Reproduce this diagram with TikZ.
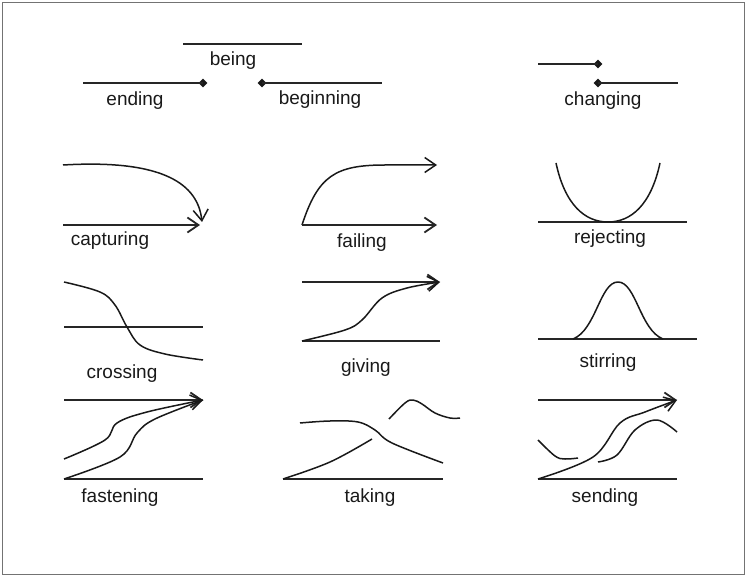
\documentclass[tikz,border=0pt]{standalone}
\usepackage{fontspec}
\setmainfont{Liberation Sans}
\usetikzlibrary{arrows.meta,shapes.geometric}

\begin{document}
\begin{tikzpicture}[x=1pt, y=-1pt,
    >={Straight Barb[length=11pt,width=15pt]},
    every node/.style={font=\fontsize{19}{21}\selectfont, text=black!90},
    stroke/.style={line width=1.8pt, draw=black!85},
    sketch/.style={line width=1.5pt, draw=black!90, line join=round},
    dot/.style={diamond, fill=black!90, inner sep=0pt, minimum size=9pt}]
  \useasboundingbox (0,0) rectangle (747,577);
  \draw[black!55, line width=1pt] (2.5,2.5) rectangle (744.5,574.5);

  % top row: being, ending, beginning, changing
  \draw[stroke] (183,44) -- (302,44);
  \node (being) at (233,61) {being};
  \node[dot] (endd) at (203,83) {};
  \coordinate (endl) at (83,83);
  \draw[stroke] (endl) -- (endd.center);
  \node (ending) at (135,101) {ending};
  \node[dot] (begd) at (262,83) {};
  \coordinate (begr) at (382,83);
  \draw[stroke] (begd.center) -- (begr);
  \node (beginning) at (320,100) {beginning};
  \node[dot] (chga) at (598,64) {};
  \node[dot] (chgb) at (598,83) {};
  \coordinate (chgl) at (538,64);
  \coordinate (chgr) at (678,83);
  \draw[stroke] (chgl) -- (chga.center);
  \draw[stroke] (chgb.center) -- (chgr);
  \node (changing) at (603,101) {changing};

  % capturing
  \draw[sketch, ->] (63,165) .. controls (165,159) and (198,185) .. (202,222);
  \draw[stroke, ->] (63,225) -- (200,225);
  \node (capturing) at (110,241) {capturing};

  % failing
  \draw[sketch, ->] (302,225) .. controls (318,176) and (335,165) .. (385,165) -- (437,165);
  \draw[stroke, ->] (302,225) -- (437,225);
  \node (failing) at (362,243) {failing};

  % rejecting
  \draw[stroke] (538,222) -- (687,222);
  \draw[sketch] (556,163) .. controls (565,205) and (585,222) .. (608,222)
    .. controls (631,222) and (651,205) .. (660,163);
  \node (rejecting) at (610,239) {rejecting};

  % crossing
  \draw[stroke] (64,327) -- (203,327);
  \draw[sketch] plot[smooth, tension=0.6] coordinates
    {(64,282) (100,292) (115,305) (127,327) (140,345) (165,354) (203,360)};
  \node (crossing) at (122,374) {crossing};

  % giving
  \draw[stroke, ->] (302,282) -- (440,282);
  \draw[stroke] (302,341) -- (440,341);
  \draw[sketch, ->] plot[smooth, tension=0.6] coordinates
    {(302,341) (345,330) (362,320) (382,298) (407,288) (440,282)};
  \node (giving) at (366,368) {giving};

  % stirring
  \draw[stroke] (538,339) -- (697,339);
  \draw[sketch] (573,339) .. controls (596,330) and (600,282) .. (618,282)
    .. controls (636,282) and (640,330) .. (663,339);
  \node (stirring) at (608,363) {stirring};

  % fastening
  \draw[stroke, ->] (64,400) -- (203,400);
  \draw[stroke] (64,479) -- (203,479);
  \draw[sketch, ->] plot[smooth, tension=0.6] coordinates
    {(64,459) (105,440) (117,423) (147,412) (203,400)};
  \draw[sketch] plot[smooth, tension=0.6] coordinates
    {(64,479) (120,457) (137,433) (155,419) (203,400)};
  \node (fastening) at (120,498) {fastening};

  % taking
  \draw[stroke] (283,479) -- (443,479);
  \draw[sketch] plot[smooth, tension=0.6] coordinates
    {(283,479) (330,462) (372,439)};
  \draw[sketch] plot[smooth, tension=0.6] coordinates
    {(300,423) (330,421) (358,422) (375,430) (392,443) (443,463)};
  \draw[sketch] plot[smooth, tension=0.6] coordinates
    {(389,419) (405,403) (413,400) (422,404) (435,413) (450,418) (460,418)};
  \node (taking) at (370,498) {taking};

  % sending
  \draw[stroke, ->] (538,400) -- (677,400);
  \draw[stroke] (538,479) -- (677,479);
  \draw[sketch, ->] plot[smooth, tension=0.6] coordinates
    {(538,479) (593,457) (620,423) (645,412) (677,400)};
  \draw[sketch] plot[smooth, tension=0.6] coordinates
    {(598,462) (617,455) (635,430) (657,420) (677,432)};
  \draw[sketch] plot[smooth, tension=0.6] coordinates
    {(538,440) (555,456) (565,459) (578,458)};
  \node (sending) at (605,498) {sending};
\end{tikzpicture}
\end{document}
